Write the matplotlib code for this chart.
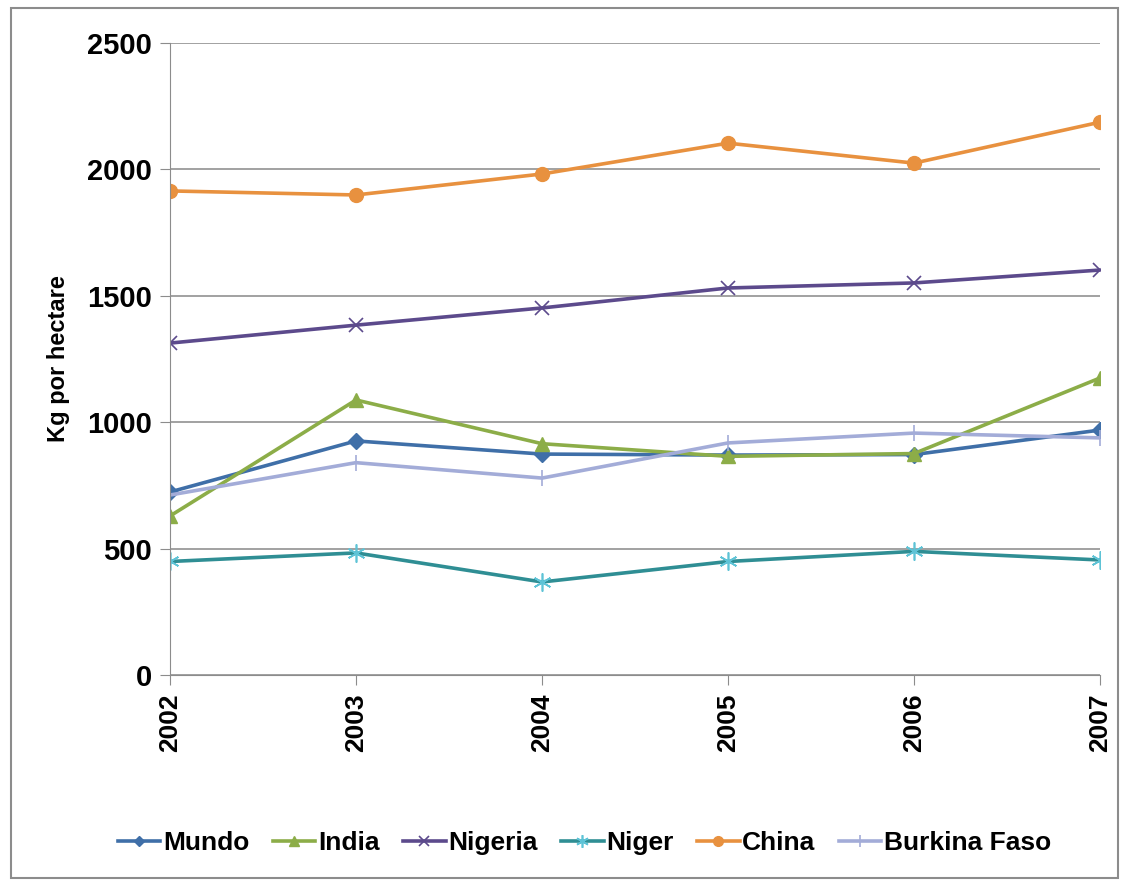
import matplotlib.pyplot as plt
from matplotlib.patches import Rectangle

years = [2002, 2003, 2004, 2005, 2006, 2007]
mundo = [724, 926, 874, 870, 872, 969]
india = [629, 1088, 915, 865, 876, 1175]
nigeria = [1313, 1384, 1452, 1531, 1551, 1602]
niger = [449, 483, 368, 449, 489, 455]
china = [1915, 1899, 1982, 2104, 2025, 2187]
burkina = [712, 840, 779, 918, 957, 938]

plt.rcParams['font.family'] = ['Liberation Sans', 'DejaVu Sans']

fig = plt.figure(figsize=(11.28, 8.82), dpi=100)
ax = fig.add_axes([0.1507, 0.2347, 0.8245, 0.7165])

# outer frame of the chart
fig.patches.append(Rectangle((11/1128, 1 - 878/882), 1107/1128, 870/882,
                             transform=fig.transFigure, fill=False,
                             edgecolor='#8c8c8c', linewidth=1.5))

lw = 2.6
ax.plot(years, mundo, color='#3f6fa8', lw=lw, marker='D', ms=8, label='Mundo')
ax.plot(years, india, color='#8cad48', lw=lw, marker='^', ms=10, label='India')
ax.plot(years, nigeria, color='#5c4a8c', lw=lw, marker='x', ms=10, mew=1.2, label='Nigeria')
ax.plot(years, niger, color='#2f8e94', lw=lw, marker=(6, 2, 0), ms=13, mew=1.2,
        mec='#5ec3d6', label='Niger')
ax.plot(years, china, color='#e8913f', lw=lw, marker='o', ms=10, label='China')
ax.plot(years, burkina, color='#a3acd8', lw=lw, marker='|', ms=12, mew=1.2, label='Burkina Faso')

ax.set_xlim(2002, 2007)
ax.set_ylim(0, 2500)
ax.set_yticks([0, 500, 1000, 1500, 2000, 2500])
ax.set_xticks(years)
ax.set_xticklabels([str(y) for y in years], rotation=90, fontsize=19, fontweight='bold')
ax.set_yticklabels(['0', '500', '1000', '1500', '2000', '2500'], fontsize=21, fontweight='bold')
ax.yaxis.grid(True, color='#9a9a9a', lw=1.3)
ax.set_axisbelow(True)
for s in ['top', 'right']:
    ax.spines[s].set_visible(False)
ax.spines['left'].set_color('#8c8c8c')
ax.spines['bottom'].set_color('#8c8c8c')
ax.tick_params(axis='both', direction='out', length=7, color='#8c8c8c', pad=6)
ax.set_ylabel('Kg por hectare', fontsize=17, fontweight='bold', labelpad=12)

leg = ax.legend(loc='center', bbox_to_anchor=(0.446, -0.266), ncol=6, frameon=False,
                prop={'size': 19, 'weight': 'bold'}, handlelength=1.6,
                columnspacing=0.9, handletextpad=0.1, markerscale=0.7)

fig.savefig('out.png', dpi=100)
